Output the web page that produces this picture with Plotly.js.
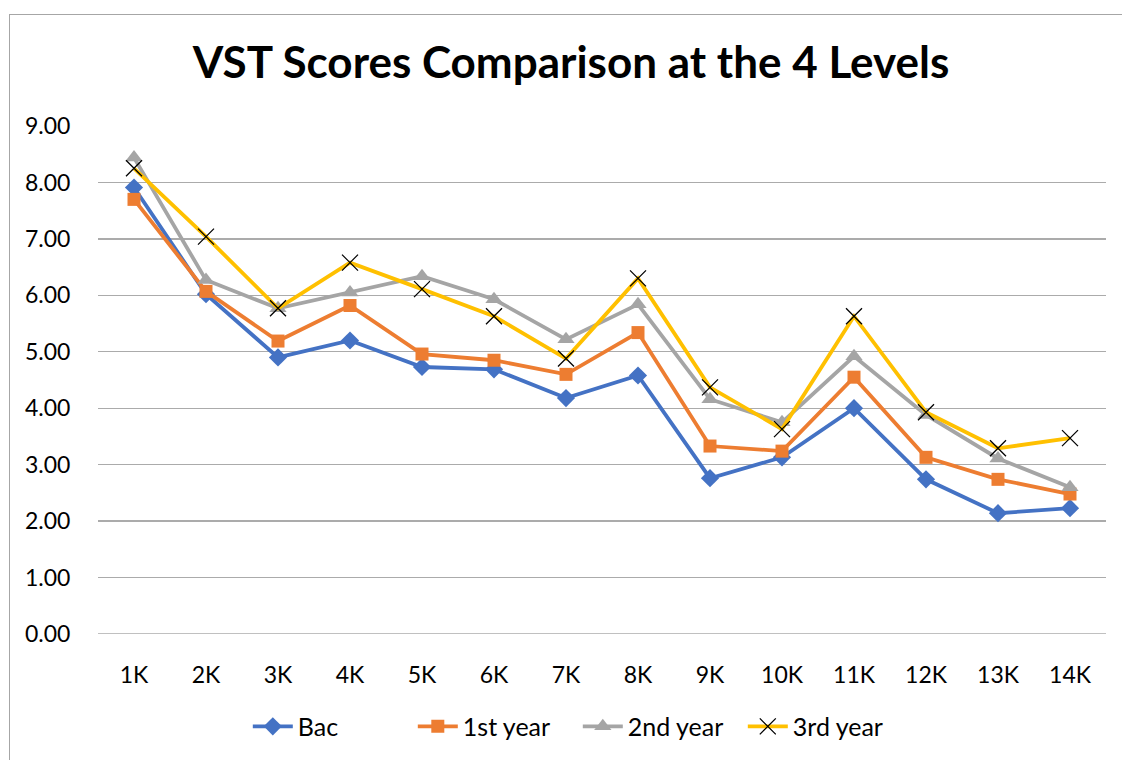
<!DOCTYPE html>
<html>
<head>
<meta charset="utf-8">
<script src="https://cdn.plot.ly/plotly-3.0.1.min.js"></script>
<style>
html,body{margin:0;padding:0;background:#fff;}
#wrap{position:relative;width:1122px;height:760px;overflow:hidden;}
#chart{width:1122px;height:760px;}
#frame{position:absolute;left:9px;top:14px;width:1200px;height:800px;border:1.5px solid #a6a6a6;pointer-events:none;}
</style>
</head>
<body>
<div id="wrap"><div id="chart"></div><div id="frame"></div></div>
<script>
const categories = ["1K","2K","3K","4K","5K","6K","7K","8K","9K","10K","11K","12K","13K","14K"];
const bac =       [7.91, 6.02, 4.90, 5.20, 4.73, 4.69, 4.18, 4.58, 2.76, 3.13, 4.00, 2.74, 2.14, 2.23];
const firstYear = [7.70, 6.07, 5.19, 5.82, 4.96, 4.85, 4.60, 5.34, 3.33, 3.24, 4.55, 3.13, 2.74, 2.48];
const secondYear= [8.44, 6.27, 5.77, 6.05, 6.34, 5.93, 5.22, 5.84, 4.16, 3.75, 4.92, 3.88, 3.11, 2.60];
const thirdYear = [8.25, 7.04, 5.77, 6.58, 6.11, 5.63, 4.88, 6.30, 4.37, 3.63, 5.63, 3.93, 3.29, 3.47];
const seriesNames = ["Bac","1st year","2nd year","3rd year"];
const yTicks = [0,1,2,3,4,5,6,7,8,9];

const font = "Lato, 'Open Sans', sans-serif";
const traces = [
  {x: categories, y: bac, name: seriesNames[0], mode: "lines+markers",
   line: {color: "#4472C4", width: 3.8}, marker: {symbol: "diamond", size: 14, color: "#4472C4"}},
  {x: categories, y: firstYear, name: seriesNames[1], mode: "lines+markers",
   line: {color: "#ED7D31", width: 3.8}, marker: {symbol: "square", size: 13, color: "#ED7D31"}},
  {x: categories, y: secondYear, name: seriesNames[2], mode: "lines+markers",
   line: {color: "#A5A5A5", width: 3.8}, marker: {symbol: "triangle-up", size: 15, color: "#A5A5A5"}},
  {x: categories, y: thirdYear, name: seriesNames[3], mode: "lines+markers",
   line: {color: "#FFC000", width: 3.8}, marker: {symbol: "x-thin-open", size: 16, color: "#000", line: {color: "#000", width: 1.3}}}
];

const layout = {
  width: 1122, height: 760,
  margin: {l: 98, r: 16, t: 126, b: 125},
  paper_bgcolor: "#fff", plot_bgcolor: "#fff",
  font: {family: font, color: "#000", size: 23},
  title: {text: "<b>VST Scores Comparison at the 4 Levels</b>", font: {family: font, size: 44, color: "#000"},
          x: 0.509, xanchor: "center", y: 0.918, yanchor: "middle"},
  showlegend: true,
  legend: {orientation: "h", x: 0.476, xanchor: "center", y: -0.18, yanchor: "middle",
           font: {family: font, size: 25, color: "#000"}, traceorder: "normal", itemwidth: 40,
           entrywidth: 110, entrywidthmode: "pixels"},
  xaxis: {type: "category", range: [-0.5, 13.5], showgrid: false, zeroline: false,
          showline: false, ticks: "outside", ticklen: 20, tickcolor: "rgba(0,0,0,0)",
          tickfont: {family: font, size: 23, color: "#000"}, fixedrange: true},
  yaxis: {range: [0, 9], tickvals: yTicks, ticktext: yTicks.map(v => v.toFixed(2)),
          showgrid: true, gridcolor: "#ababab", gridwidth: 1.3, zeroline: false, showline: false,
          ticks: "outside", ticklen: 22, tickcolor: "rgba(0,0,0,0)",
          tickfont: {family: font, size: 23, color: "#000"}, fixedrange: true},
  shapes: [{type: "line", xref: "paper", yref: "y", x0: 0, x1: 1, y0: 0, y1: 0,
            line: {color: "#ababab", width: 1.3}, layer: "below"}]
};

Plotly.newPlot("chart", traces, layout, {displayModeBar: false, staticPlot: true});
</script>
</body>
</html>
